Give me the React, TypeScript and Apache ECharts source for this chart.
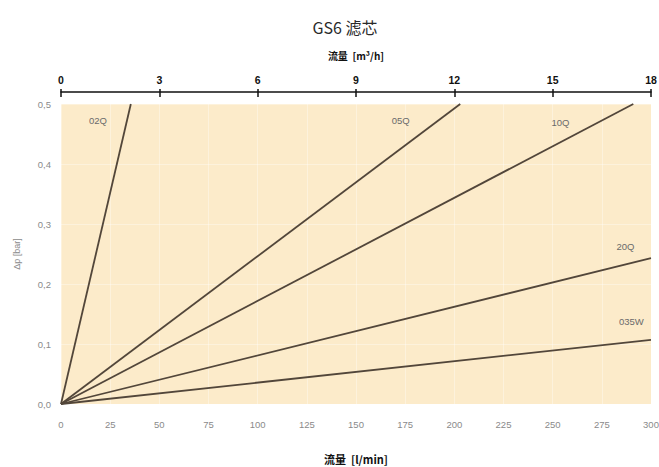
import React, { useEffect, useRef } from "react";
import * as echarts from "echarts";

const seriesNames = ["02Q", "05Q", "10Q", "20Q", "035W"];
// Each series is a straight line from the origin: [flow l/min, Δp bar]
const line02Q = [[0, 0], [35.5, 0.5]];
const line05Q = [[0, 0], [203, 0.5]];
const line10Q = [[0, 0], [291, 0.5]];
const line20Q = [[0, 0], [300, 0.243]];
const line035W = [[0, 0], [300, 0.107]];
const seriesData = [line02Q, line05Q, line10Q, line20Q, line035W];
// label anchor positions in data units
const labelPos = [[18.8, 0.472], [172.7, 0.472], [254, 0.47], [287, 0.262], [290, 0.138]];

const bottomMin = 0, bottomMax = 300, bottomStep = 25;
const topMin = 0, topMax = 18, topStep = 3;
const yMin = 0, yMax = 0.5, yStep = 0.1;

export default function App() {
  const ref = useRef<HTMLDivElement>(null);
  useEffect(() => {
    const chart = echarts.init(ref.current!, null, { renderer: "svg" });
    const lineColor = "#52463a";
    chart.setOption({
      animation: false,
      backgroundColor: "#ffffff",
      title: {
        text: "GS6 滤芯",
        left: 340,
        textAlign: "center",
        top: 14,
        textStyle: { fontFamily: "Noto Sans CJK SC", fontSize: 16, fontWeight: "normal", color: "#2a2a2a" },
      },
      grid: {
        left: 61, right: 8, top: 104, bottom: 63,
        outerBoundsMode: "none",
        containLabel: false,
        show: true, backgroundColor: "#fcebca", borderWidth: 0,
      },
      xAxis: [
        {
          type: "value",
          position: "bottom",
          min: bottomMin,
          max: bottomMax,
          interval: bottomStep,
          name: "流量  [l/min]",
          nameLocation: "middle",
          nameGap: 49,
          nameTextStyle: { fontFamily: "Noto Sans CJK SC", fontSize: 11, fontWeight: "bold", color: "#111" },
          axisLine: { show: false },
          axisTick: { show: false },
          splitLine: { show: true, lineStyle: { color: "rgba(255,255,255,0.35)", width: 1 } },
          axisLabel: { fontFamily: "Liberation Sans", fontSize: 9.5, color: "#8a8a8a", margin: 15 },
        },
        {
          type: "value",
          position: "top",
          offset: 12,
          min: topMin,
          max: topMax,
          interval: topStep,
          name: "流量  [m³/h]",
          nameLocation: "middle",
          nameGap: 32,
          nameTextStyle: { fontFamily: "Noto Sans CJK SC", fontSize: 10, fontWeight: "bold", color: "#111" },
          axisLine: { show: true, lineStyle: { color: "#111", width: 1.5 } },
          axisTick: { show: true, length: 3, lineStyle: { color: "#111", width: 1.5 } },
          splitLine: { show: false },
          axisLabel: { fontFamily: "Liberation Sans", fontSize: 10.5, fontWeight: "bold", color: "#111", margin: 7 },
        },
        {
          type: "value",
          position: "top",
          offset: 12,
          min: topMin,
          max: topMax,
          interval: topStep,
          axisLine: { show: false },
          axisTick: { show: true, inside: true, length: 5, lineStyle: { color: "#111", width: 1.5 } },
          splitLine: { show: false },
          axisLabel: { show: false },
        },
      ],
      yAxis: {
        type: "value",
        min: yMin,
        max: yMax,
        interval: yStep,
        name: "Δp [bar]",
        nameLocation: "middle",
        nameGap: 40,
        nameTextStyle: { fontFamily: "Liberation Sans", fontSize: 9, color: "#8a8a8a" },
        axisLine: { show: false },
        axisTick: { show: false },
        splitLine: { show: true, lineStyle: { color: "rgba(255,255,255,0.35)", width: 1 } },
        axisLabel: {
          fontFamily: "Liberation Sans",
          fontSize: 9.5,
          color: "#8a8a8a",
          margin: 10,
          formatter: (v: number) => v.toFixed(1).replace(".", ","),
        },
      },
      series: seriesNames.map((n, i) => ({
        name: n,
        type: "line",
        xAxisIndex: 0,
        data: seriesData[i],
        symbol: "none",
        lineStyle: { color: lineColor, width: 1.8 },
        markPoint: {
          symbol: "circle",
          symbolSize: 0,
          data: [{ coord: labelPos[i], value: n }],
          label: {
            show: true,
            position: "inside",
            formatter: n,
            fontFamily: "Liberation Sans",
            fontSize: 9.5,
            color: "#6a6a6a",
          },
        },
      })),
    });
    return () => chart.dispose();
  }, []);
  return (
    <div
      ref={ref}
      style={{ position: "absolute", left: 0, top: 0, width: 659, height: 467 }}
    />
  );
}
